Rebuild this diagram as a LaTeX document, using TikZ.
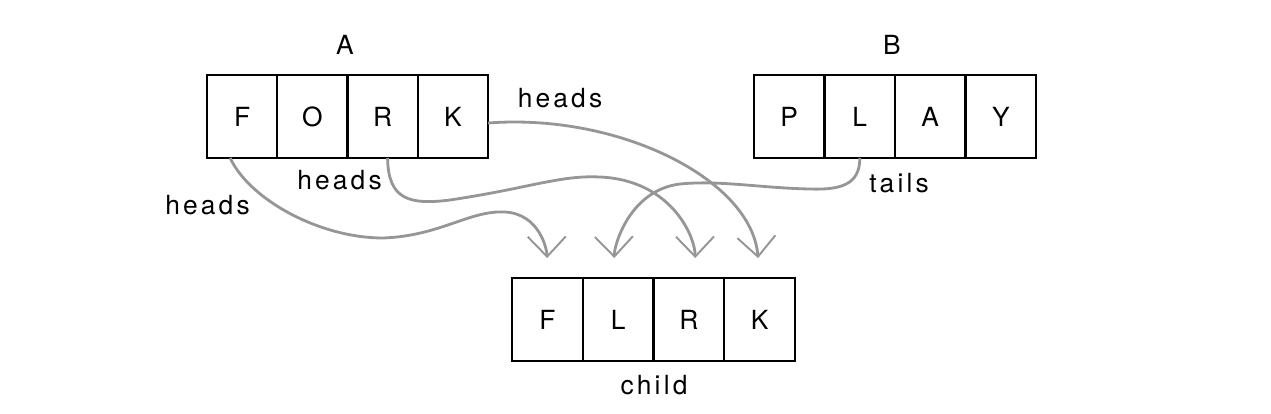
\documentclass[tikz,border=0pt]{standalone}
\usepackage{fontspec}
\setmainfont{TeX Gyre Heros}[LetterSpace=12]
\usetikzlibrary{arrows.meta}

\definecolor{g}{RGB}{150,150,150}

\begin{document}
\begin{tikzpicture}[
        x=0.02cm, y=-0.02cm,
        cell/.style={rectangle, draw=black, line width=1.1pt, minimum width=1.41cm, minimum height=1.66cm, inner sep=0pt, outer sep=0pt, font=\fontsize{15}{18}\selectfont},
        lbl/.style={inner sep=0pt, font=\fontsize{15}{18}\selectfont},
        link/.style={draw=g, line width=1.6pt, shorten >=0.4cm, -{Straight Barb[length=0.4cm, width=0.76cm, line width=1.1pt]}},
    ]
    \useasboundingbox (0,0) rectangle (1271,413);

    % parent A
    \node[lbl] (A) at (345,45) {A};
    \node[cell] (a1) at (242.1,116.5) {F};
    \node[cell] (a2) at (312.4,116.5) {O};
    \node[cell] (a3) at (382.6,116.5) {R};
    \node[cell] (a4) at (452.9,116.5) {K};

    % parent B
    \node[lbl] (B) at (892,45) {B};
    \node[cell] (b1) at (789.2,116.5) {P};
    \node[cell] (b2) at (859.8,116.5) {L};
    \node[cell] (b3) at (930.2,116.5) {A};
    \node[cell] (b4) at (1000.8,116.5) {Y};

    % child
    \node[cell] (c1) at (547.4,319.5) {F};
    \node[cell] (c2) at (618.1,319.5) {L};
    \node[cell] (c3) at (688.9,319.5) {R};
    \node[cell] (c4) at (759.6,319.5) {K};
    \node[lbl] (child) at (654,385) {child};

    \node[lbl] (h1) at (207.5,205) {heads};
    \node[lbl] (h2) at (339.5,180) {heads};
    \node[lbl] (h3) at (560,98) {heads};
    \node[lbl] (t1) at (899,183) {tails};

    \draw[link] ([xshift=-0.24cm]a1.south) .. controls (250,200) and (320,238) .. (383,238)
        .. controls (440,236) and (470,210) .. (505,212)
        .. controls (540,214) and (547,250) .. (c1.north);
    \draw[link] ([xshift=0.1cm]a3.south) .. controls (388,200) and (410,205) .. (450,200)
        .. controls (530,188) and (560,175) .. (600,177)
        .. controls (670,180) and (695,235) .. ([xshift=0.13cm]c3.north);
    \draw[link] ([yshift=-0.13cm]a4.east) .. controls (620,113) and (752,180) .. (c4.north);
    \draw[link] (b2.south) .. controls (860,185) and (840,190) .. (810,189)
        .. controls (760,188) and (720,180) .. (680,184)
        .. controls (630,190) and (614,245) .. ([xshift=-0.07cm]c2.north);
\end{tikzpicture}
\end{document}
